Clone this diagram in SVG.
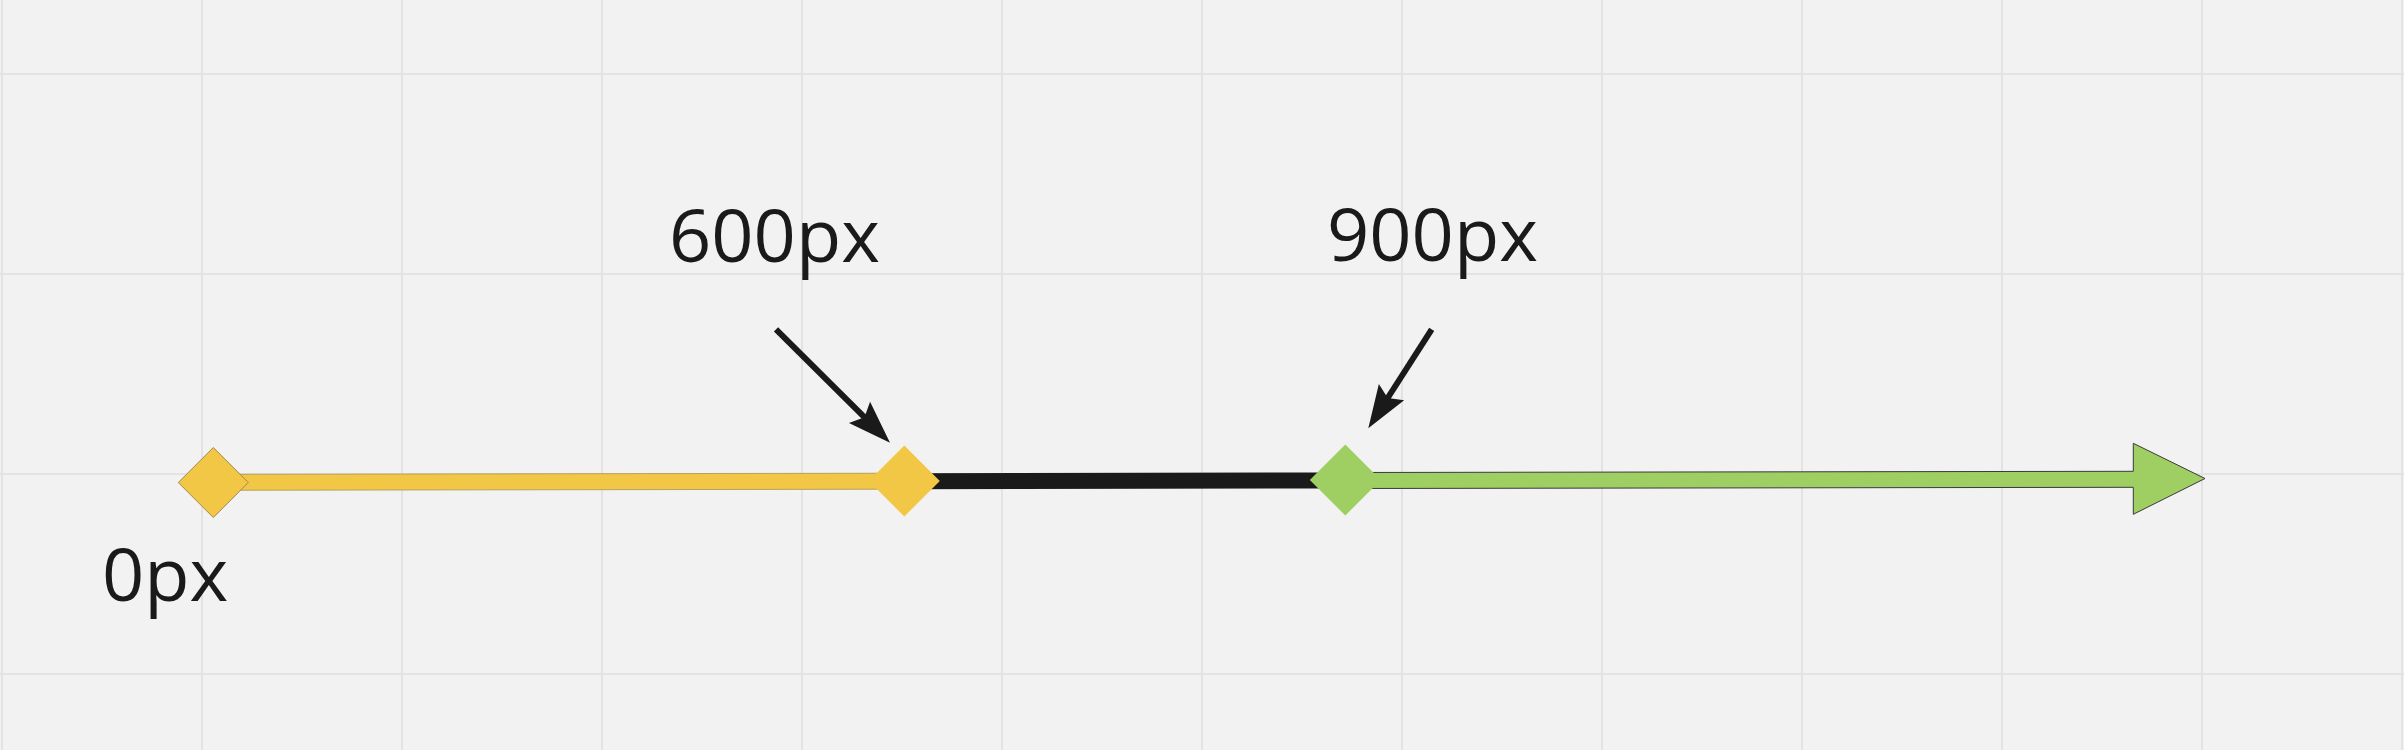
<svg xmlns="http://www.w3.org/2000/svg" width="2404" height="750" viewBox="0 0 2404 750">
  <style>
    .grid { stroke: #e3e3e3; stroke-width: 2; fill: none; }
    .label { font-family: "Open Sans", "Noto Sans", "Liberation Sans", sans-serif; font-size: 74px; fill: #1a1a1a; }
    .pointer { stroke: #1a1a1a; stroke-width: 6; fill: none; marker-end: url(#ah); }
  </style>
  <defs>
    <marker id="ah" viewBox="-12 -17 47 34" refX="0" refY="0" markerWidth="47" markerHeight="34" markerUnits="userSpaceOnUse" orient="auto">
      <path d="M33,0 L-10,-15 L-3,0 L-10,15 Z" fill="#1a1a1a"/>
    </marker>
  </defs>
  <rect x="0" y="0" width="2404" height="750" fill="#f2f2f2"/>
  <g id="grid" class="grid">
    <path d="M2,0V750M202,0V750M402,0V750M602,0V750M802,0V750M1002,0V750M1202,0V750M1402,0V750M1602,0V750M1802,0V750M2002,0V750M2202,0V750M2402,0V750"/>
    <path d="M0,74H2404M0,274H2404M0,474H2404M0,674H2404"/>
  </g>
  <g id="connectors">
    <path id="bar-black" d="M904,473.2 L1345,472.5 L1345,488.5 L904,489.2 Z" fill="#1a1a1a"/>
    <path id="bar-yellow" d="M213,474.3 L904,473.2 L904,489.2 L213,490.3 Z" fill="#f2c746" stroke="#a08a4a" stroke-width="1" stroke-opacity="0.7"/>
    <path id="bar-green" d="M1345,472.5 L2133.3,471.3 L2133.3,443.3 L2205,478.5 L2133.3,514.3 L2133.3,487.3 L1345,488.5 Z" fill="#9fce62" stroke="#3a3a3a" stroke-width="1" stroke-linejoin="miter"/>
    <path id="pointer-600" class="pointer" d="M776,329.3 L866.6,419.4"/>
    <path id="pointer-900" class="pointer" d="M1431.7,329.3 L1386.1,400.5"/>
  </g>
  <g id="stop-0">
    <polygon points="213.3,447.5 248.3,482.5 213.3,517.5 178.3,482.5" fill="#f2c746" stroke="#a08a4a" stroke-width="1"/>
  </g>
  <g id="stop-600">
    <polygon points="904.3,445.5 939.8,481 904.3,516.5 868.8,481" fill="#f2c746"/>
  </g>
  <g id="stop-900">
    <polygon points="1345.3,444.5 1380.8,480 1345.3,515.5 1309.8,480" fill="#9fce62"/>
  </g>
  <g id="label-0">
    <text class="label" x="102" y="601">0px</text>
  </g>
  <g id="label-600">
    <text class="label" x="669" y="262">600px</text>
  </g>
  <g id="label-900">
    <text class="label" x="1327" y="261">900px</text>
  </g>
</svg>
